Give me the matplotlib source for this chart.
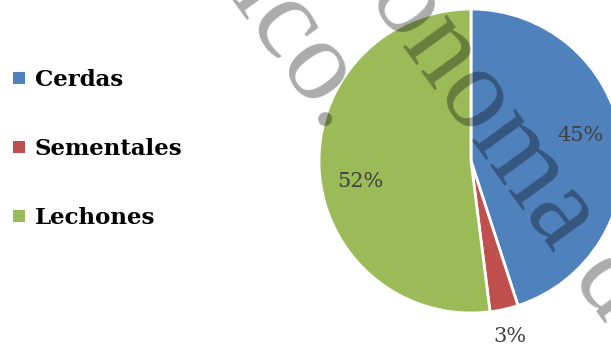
import numpy as np
import matplotlib
matplotlib.use('Agg')
import matplotlib.pyplot as plt
from matplotlib.lines import Line2D

# Composición del hato
categorias = ['Cerdas', 'Sementales', 'Lechones']
porcentajes = [45, 3, 52]
colores = ['#4F81BD', '#C0504D', '#9BBB59']

W, H = 611, 347
fig = plt.figure(figsize=(W / 100, H / 100), dpi=100)

# Pie axes: center (471, 161) px, radius 152 px
cx, cy, r = 471, 161, 152
ax = fig.add_axes([(cx - r) / W, 1 - (cy + r) / H, 2 * r / W, 2 * r / H])
wedges, _ = ax.pie(porcentajes, colors=colores, startangle=90, counterclock=False,
                   radius=1.0, wedgeprops=dict(edgecolor='white', linewidth=2))
ax.set_xlim(-1, 1)
ax.set_ylim(-1, 1)
ax.set_aspect('equal')
ax.axis('off')

# Percent labels: inside for big slices, outside for the small one
# (small angular nudges, like the "best fit" placement of the original chart)
nudge = [4, 0, 7]
for w, p, dn in zip(wedges, porcentajes, nudge):
    ang = np.deg2rad((w.theta1 + w.theta2) / 2 + dn)
    dist = 0.74 if p > 10 else 1.18
    ax.text(dist * np.cos(ang), dist * np.sin(ang), f'{p}%',
            ha='center', va='center', fontsize=15, color='#404040',
            family='DejaVu Serif', clip_on=False)

# Legend on the left
handles = [Line2D([], [], marker='s', linestyle='none', markersize=8,
                  markerfacecolor=c, markeredgewidth=0) for c in colores]
fig.legend(handles, categorias, loc='center left',
           bbox_to_anchor=(12 / W, 1 - 149 / H), frameon=False,
           borderpad=0, borderaxespad=0, handlelength=0.6, handletextpad=0.4,
           labelspacing=2.05,
           prop=dict(family='DejaVu Serif', weight='bold', size=16.5))

# Watermark
marca = dict(transform=fig.transFigure, rotation=-54, rotation_mode='anchor',
             ha='center', va='baseline', fontsize=84, family='Liberation Serif',
             color='black', alpha=0.33, zorder=10)
fig.text(278 / W, 1 - 66 / H, 'ico.', **marca)
fig.text(486 / W, 1 - 160 / H, 'onoma d', **marca)

fig.savefig('out.png', dpi=100)
